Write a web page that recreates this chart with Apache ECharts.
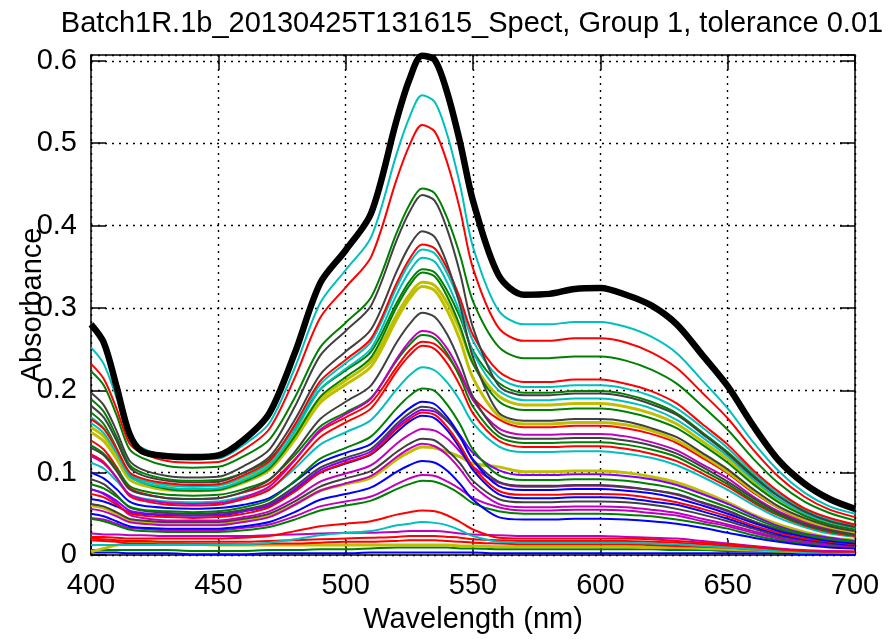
<!DOCTYPE html>
<html>
<head>
<meta charset="utf-8">
<script src="https://cdn.jsdelivr.net/npm/echarts@6/dist/echarts.min.js"></script>
<style>html,body{margin:0;padding:0;background:#fff}#c{width:892px;height:639px}</style>
</head>
<body>
<div id="c"></div>
<script>
// ---- DATA ----
const titleText = 'Batch1R.1b_20130425T131615_Spect, Group 1, tolerance 0.01';
const xLabel = 'Wavelength (nm)';
const yLabel = 'Absorbance';
const wavelength = [400,405,410,415,420,430,440,450,460,470,480,490,500,510,520,525,530,535,540,545,550,560,570,580,590,600,610,620,630,640,650,660,670,680,690,700];

const blackRef = [.280,.258,.205,.148,.126,.120,.119,.121,.140,.172,.245,.330,.370,.415,.528,.577,.606,.601,.560,.500,.430,.340,.316,.317,.323,.324,.316,.303,.280,.243,.205,.157,.115,.087,.068,.056];

const cyan1 = [.252,.232,.191,.143,.130,.119,.116,.117,.134,.160,.227,.306,.346,.386,.487,.531,.558,.550,.509,.448,.374,.297,.280,.280,.283,.283,.277,.265,.245,.212,.178,.137,.102,.076,.059,.050];
const red1 = [.232,.214,.178,.136,.124,.114,.112,.113,.128,.153,.215,.288,.325,.362,.456,.497,.522,.514,.475,.418,.348,.276,.260,.260,.263,.263,.258,.246,.227,.197,.166,.128,.095,.071,.055,.046];
const green1 = [.223,.206,.170,.129,.118,.108,.106,.107,.120,.140,.191,.252,.282,.313,.391,.425,.445,.439,.408,.363,.308,.253,.239,.239,.241,.241,.236,.225,.208,.181,.152,.117,.087,.065,.051,.042];
const gray1 = [.197,.182,.151,.115,.104,.096,.094,.095,.108,.128,.180,.242,.272,.303,.382,.416,.437,.430,.394,.341,.276,.206,.194,.194,.196,.196,.192,.183,.170,.147,.123,.095,.071,.053,.041,.034];
const gray2 = [.181,.167,.139,.107,.097,.090,.088,.089,.100,.119,.164,.219,.247,.274,.344,.375,.393,.386,.352,.302,.240,.173,.163,.163,.165,.165,.162,.154,.143,.124,.104,.080,.059,.045,.035,.029];
const red2 = [.165,.153,.129,.101,.093,.087,.085,.086,.097,.114,.158,.211,.237,.263,.330,.359,.377,.372,.347,.311,.267,.223,.210,.210,.213,.213,.208,.199,.184,.159,.134,.103,.077,.057,.045,.037];
const cyan2 = [.167,.154,.129,.100,.091,.085,.083,.084,.095,.112,.155,.207,.233,.259,.325,.354,.371,.366,.341,.305,.260,.216,.204,.204,.206,.206,.202,.193,.178,.155,.130,.100,.074,.056,.043,.036];
const cyan3 = [.160,.148,.124,.096,.088,.082,.080,.081,.091,.108,.150,.201,.226,.251,.316,.344,.361,.356,.330,.293,.246,.200,.188,.188,.190,.190,.186,.178,.164,.143,.120,.092,.068,.051,.040,.033];
const green2 = [.189,.174,.144,.110,.100,.092,.090,.091,.100,.116,.154,.201,.224,.247,.306,.332,.347,.343,.320,.288,.248,.209,.197,.197,.199,.199,.195,.186,.172,.149,.125,.097,.072,.054,.042,.035];
const green3 = [.173,.159,.130,.097,.088,.080,.078,.079,.089,.105,.144,.192,.216,.240,.301,.327,.343,.338,.313,.277,.232,.187,.176,.176,.178,.178,.174,.166,.154,.134,.112,.086,.064,.048,.037,.031];
const yellow1 = [.155,.144,.123,.098,.091,.085,.084,.085,.094,.109,.146,.190,.212,.235,.291,.316,.331,.327,.305,.272,.233,.193,.182,.182,.184,.184,.180,.172,.159,.138,.116,.089,.066,.050,.039,.032];
const yellow2 = [.149,.138,.117,.092,.085,.079,.078,.079,.088,.103,.140,.185,.207,.229,.286,.311,.326,.321,.296,.260,.215,.169,.159,.159,.161,.161,.158,.151,.139,.121,.101,.078,.058,.043,.034,.028];
const gray3 = [.130,.121,.102,.080,.074,.069,.068,.069,.077,.091,.125,.165,.186,.206,.258,.280,.294,.289,.267,.233,.192,.149,.141,.141,.142,.142,.139,.133,.123,.107,.089,.069,.051,.038,.030,.025];
const magenta1 = [.120,.111,.094,.074,.068,.063,.062,.063,.070,.083,.115,.152,.171,.190,.238,.259,.272,.268,.250,.222,.188,.154,.146,.146,.147,.147,.144,.137,.127,.110,.093,.071,.053,.040,.031,.026];
const green4 = [.133,.123,.105,.084,.078,.073,.072,.073,.080,.092,.121,.156,.173,.191,.236,.255,.267,.263,.244,.215,.180,.144,.136,.136,.137,.137,.134,.128,.119,.103,.086,.066,.049,.037,.029,.024];
const red3 = [.139,.128,.107,.082,.075,.069,.068,.069,.076,.087,.116,.150,.167,.185,.228,.248,.259,.256,.241,.218,.191,.165,.155,.155,.157,.157,.154,.147,.136,.118,.099,.076,.057,.042,.033,.027];
const red4 = [.122,.113,.094,.072,.066,.061,.060,.061,.068,.079,.109,.143,.161,.178,.223,.242,.254,.250,.232,.205,.172,.139,.131,.131,.132,.132,.129,.123,.114,.099,.083,.064,.048,.036,.028,.023];
const cyan4 = [.112,.105,.090,.074,.069,.065,.064,.065,.071,.080,.105,.134,.149,.164,.201,.218,.228,.224,.209,.187,.160,.132,.125,.125,.126,.126,.123,.118,.109,.095,.079,.061,.045,.034,.026,.022];
const green5 = [.086,.081,.071,.059,.055,.053,.052,.053,.058,.067,.090,.117,.130,.144,.178,.193,.202,.199,.182,.158,.128,.097,.091,.091,.092,.092,.090,.086,.080,.069,.058,.045,.033,.025,.019,.016];
const blue1 = [.100,.093,.080,.065,.060,.057,.056,.057,.061,.069,.089,.112,.124,.135,.165,.178,.186,.183,.167,.144,.115,.084,.079,.079,.080,.080,.078,.075,.069,.060,.050,.039,.029,.022,.017,.014];
const gray4 = [.092,.086,.073,.058,.054,.051,.050,.051,.055,.063,.083,.106,.118,.129,.159,.172,.180,.177,.163,.142,.116,.089,.084,.084,.085,.085,.083,.079,.074,.064,.054,.041,.031,.023,.018,.015];
const purple1 = [.080,.075,.066,.054,.051,.049,.048,.049,.053,.061,.080,.103,.115,.126,.156,.168,.176,.174,.162,.145,.124,.103,.097,.097,.098,.098,.096,.092,.085,.074,.062,.048,.035,.026,.021,.017];
const red5 = [.074,.070,.061,.051,.048,.046,.045,.046,.050,.058,.077,.100,.112,.123,.153,.165,.173,.170,.155,.133,.107,.078,.073,.073,.074,.074,.073,.069,.064,.056,.047,.036,.027,.020,.016,.013];
const blue2 = [.068,.065,.059,.052,.050,.048,.048,.048,.053,.060,.078,.100,.111,.122,.149,.162,.169,.166,.151,.129,.103,.074,.069,.069,.070,.070,.069,.065,.061,.053,.044,.034,.025,.019,.015,.012];
const magenta2 = [.080,.074,.063,.049,.045,.042,.042,.042,.046,.053,.069,.089,.099,.109,.135,.146,.153,.151,.141,.125,.107,.088,.083,.083,.084,.084,.082,.079,.073,.063,.053,.041,.030,.023,.018,.015];
const gray5 = [.062,.059,.052,.044,.042,.040,.040,.040,.044,.050,.065,.083,.093,.102,.125,.135,.141,.139,.127,.111,.090,.068,.064,.064,.065,.065,.064,.061,.056,.049,.041,.032,.023,.018,.014,.011];
const magenta3 = [.056,.053,.047,.040,.038,.036,.036,.036,.040,.046,.061,.078,.087,.096,.119,.129,.135,.132,.121,.104,.084,.062,.058,.058,.059,.059,.058,.055,.051,.044,.037,.029,.021,.016,.012,.010];
const yellow3 = [.060,.057,.050,.042,.040,.038,.038,.038,.042,.047,.061,.078,.086,.094,.116,.125,.131,.130,.125,.119,.111,.107,.101,.101,.102,.102,.100,.095,.088,.077,.064,.049,.037,.028,.021,.018];
const blue3 = [.050,.047,.041,.035,.033,.032,.032,.032,.035,.040,.052,.067,.074,.082,.101,.109,.114,.112,.102,.086,.067,.046,.043,.043,.044,.044,.043,.041,.038,.033,.027,.021,.016,.012,.009,.008];
const green6 = [.044,.041,.036,.031,.029,.028,.028,.028,.030,.034,.043,.054,.060,.066,.080,.086,.090,.089,.083,.074,.063,.053,.050,.050,.050,.050,.049,.047,.043,.038,.032,.024,.018,.014,.011,.009];
const magenta4 = [.045,.043,.038,.033,.032,.030,.030,.030,.033,.037,.047,.059,.065,.071,.086,.093,.097,.096,.089,.080,.069,.058,.054,.054,.055,.055,.054,.051,.048,.041,.035,.027,.020,.015,.012,.010];
const red6 = [.022,.022,.021,.020,.020,.020,.020,.020,.021,.023,.029,.035,.038,.041,.049,.052,.054,.053,.048,.040,.031,.021,.020,.020,.020,.020,.020,.019,.017,.015,.013,.010,.007,.005,.004,.004];
const cyan5 = [.012,.012,.012,.012,.012,.012,.012,.012,.013,.015,.019,.024,.027,.029,.036,.038,.040,.039,.036,.030,.023,.016,.015,.015,.015,.015,.015,.014,.013,.011,.009,.007,.005,.004,.003,.003];
const magenta5 = [.026,.025,.025,.024,.024,.023,.023,.023,.023,.024,.025,.026,.027,.027,.028,.029,.029,.029,.028,.026,.025,.024,.023,.023,.023,.023,.022,.021,.020,.017,.014,.011,.008,.006,.005,.004];
const red7 = [.020,.019,.018,.017,.017,.016,.016,.016,.016,.017,.018,.019,.020,.021,.022,.023,.023,.023,.022,.021,.019,.018,.017,.017,.017,.017,.017,.016,.015,.013,.011,.009,.007,.005,.004,.004];
const red8 = [.018,.017,.016,.014,.014,.013,.013,.013,.013,.014,.014,.015,.016,.016,.017,.018,.018,.018,.017,.016,.015,.014,.013,.013,.013,.013,.013,.012,.011,.010,.009,.007,.006,.005,.004,.004];
const yellow4 = [.004,.008,.012,.015,.016,.015,.013,.012,.012,.012,.012,.012,.012,.012,.012,.012,.012,.012,.012,.011,.011,.010,.010,.010,.010,.010,.010,.009,.009,.008,.007,.006,.005,.004,.004,.003];
const green7 = [.006,.006,.006,.006,.006,.006,.005,.005,.005,.006,.006,.007,.007,.008,.009,.009,.009,.009,.009,.008,.008,.007,.007,.007,.007,.007,.007,.007,.006,.006,.005,.005,.004,.004,.003,.003];
const blue4 = [.003,.003,.003,.002,.002,.002,.001,.001,.001,.002,.002,.002,.002,.003,.003,.003,.003,.003,.003,.003,.003,.002,.002,.002,.002,.002,.002,.002,.002,.002,.002,.002,.002,.001,.001,.001];

// ---- STYLE ----
const C = {b:'#0000ff', g:'#008000', r:'#ff0000', c:'#00bfbf', m:'#bf00bf', y:'#bfbf00', k:'#404040', p:'#7f00ff'};
const spectra = [
  [blue4,'b'],[green7,'g'],[yellow4,'y'],[red8,'r'],[red7,'r'],[magenta5,'m'],[cyan5,'c'],[red6,'r'],
  [magenta4,'m'],[green6,'g'],[blue3,'b'],[yellow3,'y'],[magenta3,'m'],[gray5,'k'],[magenta2,'m'],[blue2,'b'],
  [red5,'r'],[purple1,'p'],[gray4,'k'],[blue1,'b'],[green5,'g'],[cyan4,'c'],[red4,'r'],[red3,'r'],
  [green4,'g'],[magenta1,'m'],[gray3,'k'],[yellow2,'y'],[yellow1,'y'],[green3,'g'],[green2,'g'],[cyan3,'c'],
  [cyan2,'c'],[red2,'r'],[gray2,'k'],[gray1,'k'],[green1,'g'],[red1,'r'],[cyan1,'c']
];
const FONT = 'Liberation Sans';
const FS = 29;
const toPairs = arr => wavelength.map((w,i)=>[w, arr[i]]);
const series = spectra.map(([arr,col],i)=>({
  type:'line', data: toPairs(arr), showSymbol:false, symbol:'none', silent:true, smooth:0.3,
  lineStyle:{color:C[col], width: col==='y'?3:2}, z:2
}));
series.push({type:'line', data: toPairs(blackRef), showSymbol:false, symbol:'none', silent:true, smooth:0.3,
  lineStyle:{color:'#000', width:6.5}, z:3});

const axLine = {show:true, onZero:false, lineStyle:{color:'#000', width:1.5}};
const tick = {show:true, inside:true, length:15, lineStyle:{color:'#000', width:1.5}};
const grid = {show:true, lineStyle:{color:'#000', width:1.4, type:[2,5]}};

const option = {
  animation:false,
  backgroundColor:'#fff',
  title:{text:titleText, left:467, top:4, textAlign:'center',
    textStyle:{fontFamily:FONT, fontSize:FS, fontWeight:'normal', color:'#000'}},
  grid:{left:91, right:37, top:55, bottom:83, containLabel:false},
  xAxis:[
    {type:'value', min:400, max:700, interval:50, position:'bottom',
     axisLine:axLine, axisTick:tick, splitLine:grid,
     axisLabel:{fontFamily:FONT, fontSize:FS, color:'#000', margin:16},
     name:xLabel, nameLocation:'middle', nameGap:50, nameMoveOverlap:false,
     nameTextStyle:{fontFamily:FONT, fontSize:FS, color:'#000'}},
    {type:'value', min:400, max:700, interval:50, position:'top',
     axisLine:axLine, axisTick:tick, splitLine:{show:false}, axisLabel:{show:false}}
  ],
  yAxis:[
    {type:'value', min:0, max:0.607, interval:0.1, position:'left',
     axisLine:axLine, axisTick:tick, splitLine:grid,
     axisLabel:{fontFamily:FONT, fontSize:FS, color:'#000', margin:14, showMaxLabel:false,
       formatter: v => v===0 ? '0' : (Math.round(v*10)/10).toFixed(1)},
     name:yLabel, nameLocation:'middle', nameGap:44, nameMoveOverlap:false,
     nameTextStyle:{fontFamily:FONT, fontSize:FS, color:'#000'}},
    {type:'value', min:0, max:0.607, interval:0.1, position:'right',
     axisLine:axLine, axisTick:tick, splitLine:{show:false}, axisLabel:{show:false}}
  ],
  series: series
};
const chart = echarts.init(document.getElementById('c'), null, {renderer:'canvas'});
chart.setOption(option);
</script>
</body>
</html>
